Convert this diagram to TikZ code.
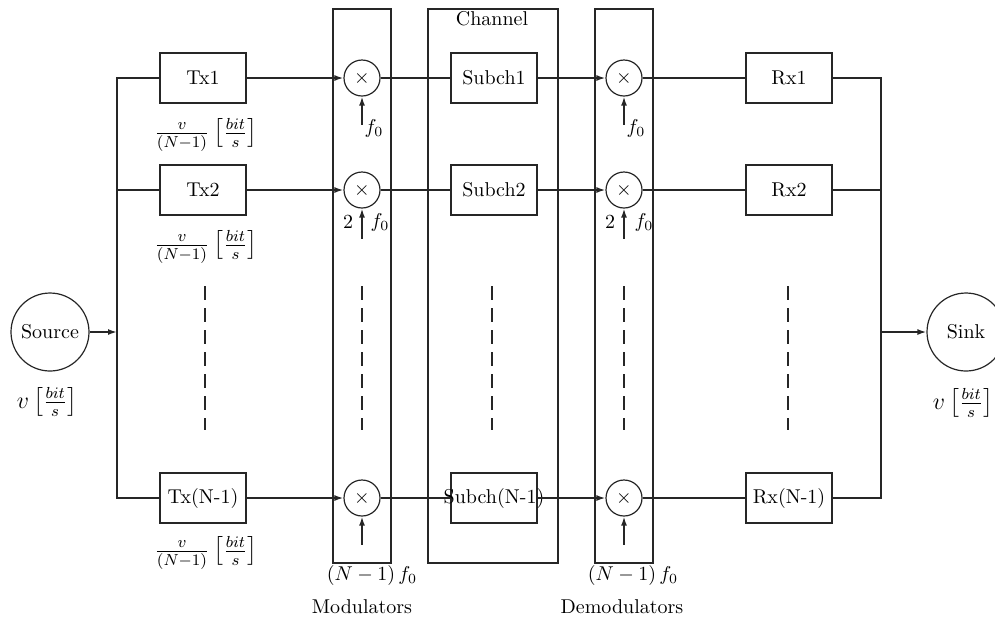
\documentclass[tikz,border=0pt]{standalone}
\usepackage{amsmath}
\usepackage{tikz}
\usetikzlibrary{arrows.meta, positioning}
\newcommand{\bitrate}{\left[\frac{bit}{s}\right]}
\tikzset{
  blk/.style   ={rectangle, draw=black!85, line width=0.8pt, minimum width=43pt, minimum height=25pt,
                 inner sep=0pt, align=center, font=\normalsize},
  mixer/.style ={circle, draw=black!85, line width=0.6pt, minimum size=18pt, inner sep=0pt, fill=white},
  endpt/.style ={circle, draw=black!85, line width=0.6pt, minimum size=39pt, inner sep=0pt},
  column/.style={rectangle, draw=black!85, line width=0.8pt, minimum height=277pt, inner sep=0pt},
  wire/.style  ={draw=black!85, line width=0.8pt},
  flow/.style  ={-{Latex[length=4.5pt, width=3pt]}, draw=black!85, line width=0.8pt},
  dots/.style  ={draw=black!85, line width=0.8pt, dash pattern=on 7pt off 4pt},
  lbl/.style   ={inner sep=0pt, font=\normalsize},
  rate/.style  ={inner sep=0pt, font=\large},
}

\begin{document}
\begin{tikzpicture}[x=0.5pt, y=-0.5pt]
  \useasboundingbox (0,0) rectangle (995,618);
  % columns
  \node[column, minimum width=29pt] (modcol) at (362,286) {};
  \node[column, minimum width=65pt] (chcol)  at (493,286) {};
  \node[column, minimum width=29pt] (demcol) at (624,286) {};
  \node[lbl, anchor=north] (chlbl) at (492,11) {Channel};
  % source and sink
  \node[endpt] (src) at (50,332)  {Source};
  \node[endpt] (snk) at (966,332) {Sink};
  \node[rate] (srcrate) at (47,402)  {$v\bitrate$};
  \node[rate] (snkrate) at (963,403) {$v\bitrate$};
  % transmitters
  \node[blk] (tx1) at (203,78)  {Tx1};
  \node[blk] (tx2) at (203,190) {Tx2};
  \node[blk] (txn) at (203,498) {Tx(N-1)};
  \node[rate] (rate1) at (206,135) {$\frac{v}{(N-1)}\bitrate$};
  \node[rate] (rate2) at (206,247) {$\frac{v}{(N-1)}\bitrate$};
  \node[rate] (raten) at (206,553) {$\frac{v}{(N-1)}\bitrate$};
  % modulators
  \node[mixer] (m1) at (362,78)  {$\times$};
  \node[mixer] (m2) at (362,190) {$\times$};
  \node[mixer] (mn) at (362,498) {$\times$};
  % subchannels
  \node[blk] (sc1) at (494,78)  {Subch1};
  \node[blk] (sc2) at (494,190) {Subch2};
  \node[blk] (scn) at (494,498) {\makebox[0pt]{Subch(N-1)}};
  % demodulators
  \node[mixer] (d1) at (624,78)  {$\times$};
  \node[mixer] (d2) at (624,190) {$\times$};
  \node[mixer] (dn) at (624,498) {$\times$};
  % receivers
  \node[blk] (rx1) at (789,78)  {Rx1};
  \node[blk] (rx2) at (789,190) {Rx2};
  \node[blk] (rxn) at (789,498) {Rx(N-1)};
  % carrier labels
  \node[lbl] (fm1) at (374,128) {$f_0$};
  \node[lbl] (km2) at (348,222) {2};
  \node[lbl] (fm2) at (380,222) {$f_0$};
  \node[lbl] (fmn) at (372,575) {$(N-1)\,f_0$};
  \node[lbl] (fd1) at (636,128) {$f_0$};
  \node[lbl] (kd2) at (610,222) {2};
  \node[lbl] (fd2) at (644,222) {$f_0$};
  \node[lbl] (fdn) at (633,575) {$(N-1)\,f_0$};
  \node[lbl] (modlbl) at (362,607) {Modulators};
  \node[lbl] (demlbl) at (622,607) {Demodulators};
  % buses
  \coordinate (lbus) at (117,332);
  \coordinate (rbus) at (881,332);
  \draw[flow] (src) -- (lbus);
  \draw[wire] (tx1.west) -| (lbus) |- (txn.west);
  \draw[wire] (tx2.west) -- (tx2.west -| lbus);
  \draw[wire] (rx1.east) -| (rbus) |- (rxn.east);
  \draw[wire] (rx2.east) -- (rx2.east -| rbus);
  \draw[flow] (rbus) -- (snk);
  % signal paths
  \draw[flow] (tx1) -- (m1);
  \draw[flow] (tx2) -- (m2);
  \draw[flow] (txn) -- (mn);
  \draw[wire] (m1) -- (sc1);
  \draw[wire] (m2) -- (sc2);
  \draw[wire] (mn) -- (scn);
  \draw[flow] (sc1) -- (d1);
  \draw[flow] (sc2) -- (d2);
  \draw[flow] (scn) -- (dn);
  \draw[wire] (d1) -- (rx1);
  \draw[wire] (d2) -- (rx2);
  \draw[wire] (dn) -- (rxn);
  % carriers
  \draw[flow] ([yshift=-14pt]m1.south) -- (m1.south);
  \draw[flow] ([yshift=-15pt]m2.south) -- (m2.south);
  \draw[flow] ([yshift=-14pt]mn.south) -- (mn.south);
  \draw[flow] ([yshift=-14pt]d1.south) -- (d1.south);
  \draw[flow] ([yshift=-15pt]d2.south) -- (d2.south);
  \draw[flow] ([yshift=-14pt]dn.south) -- (dn.south);
  % omitted rows
  \foreach \xx in {205,362,492,624,788}
    \draw[dots] (\xx,286) -- (\xx,430);
\end{tikzpicture}
\end{document}
